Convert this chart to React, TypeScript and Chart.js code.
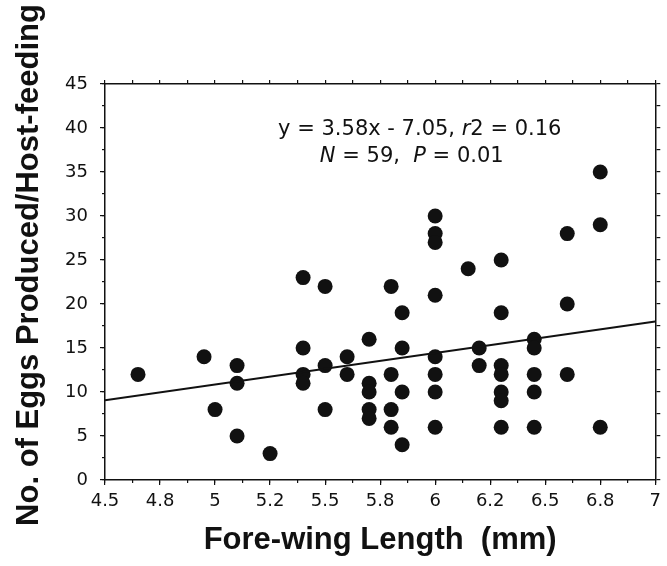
import { useEffect, useRef } from "react";
import { Chart, registerables } from "chart.js";
Chart.register(...registerables);

// ---- data ----
const xTickLabels = ["4.5", "4.8", "5", "5.2", "5.5", "5.8", "6", "6.2", "6.5", "6.8", "7"];
const foreWingLength = [
  4.65, 4.95, 5.0, 5.1, 5.1, 5.1, 5.25, 5.4, 5.4, 5.4, 5.4, 5.5, 5.5, 5.5, 5.6, 5.6,
  5.7, 5.7, 5.7, 5.7, 5.7, 5.8, 5.8, 5.8, 5.8, 5.85, 5.85, 5.85, 5.85,
  6.0, 6.0, 6.0, 6.0, 6.0, 6.0, 6.0, 6.0, 6.15, 6.2, 6.2,
  6.3, 6.3, 6.3, 6.3, 6.3, 6.3, 6.3, 6.45, 6.45, 6.45, 6.45, 6.45,
  6.6, 6.6, 6.6, 6.75, 6.75, 6.75,
];
const eggsPerHostFeeding = [
  12, 14, 8, 13, 11, 5, 3, 23, 15, 12, 11, 22, 13, 8, 14, 12,
  16, 11, 10, 8, 7, 22, 12, 8, 6, 19, 15, 10, 4,
  30, 28, 27, 21, 14, 12, 10, 6, 24, 15, 13,
  25, 19, 13, 12, 10, 9, 6, 16, 15, 12, 10, 6,
  28, 20, 12, 35, 29, 6,
];
const fitSlope = 3.58;
const fitIntercept = -7.05;
const fitRange = [4.5, 7];
const xRange = [4.5, 7];
const yRange = [0, 45];

const FONT = '"DejaVu Sans", Verdana, sans-serif';
const BOLD = '"Liberation Sans", Arial, sans-serif';

const overlayPlugin = {
  id: "overlay",
  afterDraw(chart: any) {
    const ctx = chart.ctx as CanvasRenderingContext2D;
    const xs = chart.scales.x;
    const ys = chart.scales.y;
    ctx.save();
    ctx.fillStyle = "#111";
    ctx.textBaseline = "middle";
    // annotation lines
    const drawLine = (parts: [string, boolean][], cx: number, cy: number) => {
      const widths = parts.map(([t, it]) => {
        ctx.font = `${it ? "italic " : ""}21px ${FONT}`;
        return ctx.measureText(t).width;
      });
      const total = widths.reduce((a, b) => a + b, 0);
      let x = cx - total / 2;
      parts.forEach(([t, it], i) => {
        ctx.font = `${it ? "italic " : ""}21px ${FONT}`;
        ctx.textAlign = "left";
        ctx.fillText(t, x, cy);
        x += widths[i];
      });
    };
    const cx = xs.getPixelForValue(5.93);
    drawLine([["y = 3.58x - 7.05, ", false], ["r", true], ["2 = 0.16", false]], cx, ys.getPixelForValue(39.8));
    drawLine([["N", true], [" = 59,  ", false], ["P", true], [" = 0.01", false]], cx - 8, ys.getPixelForValue(36.7));
    // y-axis title
    ctx.translate(29, 265);
    ctx.rotate(-Math.PI / 2);
    ctx.textAlign = "center";
    ctx.font = `bold 31px ${BOLD}`;
    ctx.fillText("No. of Eggs Produced/Host-feeding", 0, 0);
    ctx.restore();
  },
};

export default function App() {
  const ref = useRef<HTMLCanvasElement>(null);
  useEffect(() => {
    document.body.style.margin = "0";
    document.body.style.overflow = "hidden";
    const points = foreWingLength.map((x, i) => ({ x, y: eggsPerHostFeeding[i] }));
    const fit = fitRange.map((x) => ({ x, y: fitSlope * x + fitIntercept }));
    const helper = (pos: string, step: number, len: number, horiz: boolean, border: boolean, weight = 0) => ({
      type: "linear",
      position: pos,
      min: horiz ? xRange[0] : yRange[0],
      max: horiz ? xRange[1] : yRange[1],
      weight,
      ticks: { display: false, stepSize: step },
      grid: { drawOnChartArea: false, tickLength: len, color: "#111", lineWidth: 1.2 },
      border: { display: border, color: "#111", width: 1.5 },
      afterFit: (s: any) => {
        if (horiz) s.height = 0;
        else s.width = 0;
      },
    });
    const chart = new Chart(ref.current!, {
      data: {
        datasets: [
          {
            type: "line",
            data: fit,
            borderColor: "#111",
            borderWidth: 1.8,
            pointRadius: 0,
            xAxisID: "x",
            yAxisID: "y",
          },
          {
            type: "scatter",
            data: points,
            backgroundColor: "#111",
            borderWidth: 0,
            pointRadius: 7.5,
            xAxisID: "x",
            yAxisID: "y",
          },
        ],
      } as any,
      options: {
        responsive: false,
        animation: false,
        layout: { padding: { left: 0, top: 84, right: 11, bottom: 0 } },
        plugins: { legend: { display: false }, tooltip: { enabled: false } },
        scales: {
          x: {
            type: "linear",
            position: "bottom",
            min: xRange[0],
            max: xRange[1],
            ticks: {
              stepSize: 0.25,
              autoSkip: false,
              maxRotation: 0,
              padding: 6,
              color: "#111",
              font: { family: FONT, size: 18 },
              callback: (_v: any, i: number) => xTickLabels[i] ?? "",
            },
            grid: { drawOnChartArea: false, tickLength: 5, color: "#111", lineWidth: 1.2 },
            border: { color: "#111", width: 1.5 },
            title: {
              display: true,
              text: "Fore-wing Length  (mm)",
              color: "#111",
              font: { family: BOLD, size: 31, weight: "bold" },
              padding: { top: 0, bottom: 7 },
            },
            afterFit: (s: any) => {
              s.height = 86;
            },
          },
          xMinor: helper("bottom", 0.125, 3, true, false, -1),
          xTop: helper("top", 0.125, 4, true, true),
          y: {
            type: "linear",
            position: "left",
            min: yRange[0],
            max: yRange[1],
            ticks: {
              stepSize: 5,
              padding: 12,
              color: "#111",
              font: { family: FONT, size: 18 },
            },
            grid: { drawOnChartArea: false, tickLength: 5, color: "#111", lineWidth: 1.2 },
            border: { color: "#111", width: 1.5 },
            afterFit: (s: any) => {
              s.width = 105;
            },
          },
          yMinor: helper("left", 2.5, 3, false, false, -1),
          yRight: helper("right", 2.5, 5, false, true),
        },
      } as any,
      plugins: [overlayPlugin],
    });
    return () => chart.destroy();
  }, []);
  return (
    <div style={{ width: 667, height: 566 }}>
      <canvas ref={ref} width={667} height={566} />
    </div>
  );
}
